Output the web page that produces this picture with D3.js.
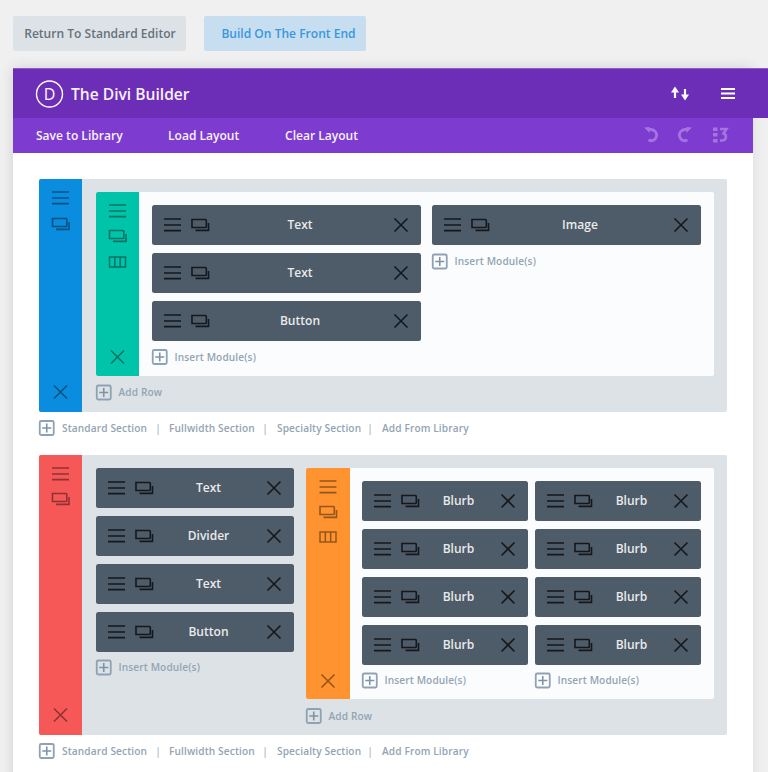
<!DOCTYPE html>
<html><head><meta charset="utf-8">
<script src="https://cdn.jsdelivr.net/npm/d3@7/dist/d3.min.js"></script>
<style>html,body{margin:0;padding:0;background:#f0f0f0;overflow:hidden}svg{display:block}text{font-family:"Open Sans",sans-serif}</style>
</head><body><svg id="c" width="768" height="772"></svg>
<script>
const topButtons = ["Return To Standard Editor", "Build On The Front End"];
const builderTitle = "The Divi Builder";
const toolbarLabels = ["Save to Library", "Load Layout", "Clear Layout"];
const sectionLinks = ["Standard Section", "Fullwidth Section", "Specialty Section", "Add From Library"];
const s1ColA = ["Text", "Text", "Button"];
const s1ColB = ["Image"];
const s2ColA = ["Text", "Divider", "Text", "Button"];
const s2ColB = ["Blurb", "Blurb", "Blurb", "Blurb"];
const s2ColC = ["Blurb", "Blurb", "Blurb", "Blurb"];
const insertLabel = "Insert Module(s)";
const addRowLabel = "Add Row";

const svg = d3.select("#c");
const defs = svg.append("defs");
defs.append("filter").attr("id","sh").attr("x","-10%").attr("y","-10%").attr("width","120%").attr("height","120%")
  .append("feGaussianBlur").attr("stdDeviation",7);

const rect = (g,x0,y0,x1,y1,fill,r=0) => g.append("rect").attr("x",x0).attr("y",y0).attr("width",x1-x0).attr("height",y1-y0).attr("rx",r).attr("fill",fill);
const label = (g,x,y,t,size,fill,weight=600,anchor="start",ls=0) => g.append("text").attr("x",x).attr("y",y).attr("dy","0.35em").attr("text-anchor",anchor)
  .attr("font-size",size).attr("font-weight",weight).attr("fill",fill).attr("letter-spacing",ls).text(t);
const stroke = (g,d,col,w=1.5,op=1) => g.append("path").attr("d",d).attr("fill","none").attr("stroke",col).attr("stroke-width",w).attr("stroke-opacity",op);

function burger(g,cx,cy,col,op=1){ stroke(g,`M${cx-8.5},${cy-6}h17M${cx-8.5},${cy}h17M${cx-8.5},${cy+5.7}h17`,col,1.7,op); }
function copyI(g,cx,cy,col,op=1){
  stroke(g,`M${cx-8},${cy-5.5}h13.5a.8,.8 0 0 1 .8,.8v6.4a.8,.8 0 0 1 -.8,.8h-13.5z`,col,1.6,op);
  stroke(g,`M${cx+8.5},${cy-2}v7.4h-13`,col,1.6,op);
}
function colsI(g,cx,cy,col,op=1){
  stroke(g,`M${cx-8},${cy-5}h16v10h-16zM${cx-2.7},${cy-5}v10M${cx+2.7},${cy-5}v10`,col,1.5,op);
}
function crossI(g,cx,cy,col,op=1){ stroke(g,`M${cx-6.5},${cy-6.5}L${cx+6.5},${cy+6.5}M${cx+6.5},${cy-6.5}L${cx-6.5},${cy+6.5}`,col,1.6,op); }
const plusCol = "#8fa2b3", linkCol = "#93a4b3";
function plus(g,x,cy){
  g.append("rect").attr("x",x+.75).attr("y",cy-7).attr("width",14).attr("height",14).attr("rx",1.5).attr("fill","none").attr("stroke",plusCol).attr("stroke-width",1.8);
  stroke(g,`M${x+7.75},${cy-4.5}v9M${x+3.25},${cy}h9`,"#7f93a5",1.6);
}

// background and panel
rect(svg,13,68,753,790,"#000").attr("filter","url(#sh)").attr("opacity",.13);
rect(svg,753,118,768,772,"#f0f0f0").attr("opacity",.35);
rect(svg,13,118,753,772,"#ffffff");

// top buttons
const btnG = svg.append("g");
rect(btnG,13,16,186,51,"#dde2e6",2);
label(btnG,100,34,topButtons[0],12.05,"#66727d",600,"middle");
rect(btnG,204,16,366,51,"#c6def0",2);
label(btnG,288.5,33.5,topButtons[1],12.05,"#3a97de",600,"middle");

// header
const head = svg.append("g");
rect(head,13,68,768,118,"#6c2db7");
head.append("rect").attr("x",13).attr("y",68).attr("width",755).attr("height",1).attr("fill","#8a5cc9");
rect(head,13,118,753,153,"#7d3bcf");
head.append("circle").attr("cx",49.5).attr("cy",94).attr("r",13).attr("fill","none").attr("stroke","#fff").attr("stroke-width",1.4);
label(head,49.5,94,"D",16,"#fff",400,"middle");
label(head,71,94.5,builderTitle,15.6,"#f6f2fb",600);
const tbX = d3.scaleOrdinal().domain(toolbarLabels).range([36,168,285]);
toolbarLabels.forEach(t => label(head,tbX(t),136,t,12.05,"#f6f2fb",600));
// header right icons
stroke(head,"M675,98V90","#fff",2.2);
head.append("path").attr("d","M671,92.5L675,86.5L679,92.5z").attr("fill","#fff");
stroke(head,"M685,89V97","#fff",2.2);
head.append("path").attr("d","M681,94.5L685,100.5L689,94.5z").attr("fill","#fff");
stroke(head,"M721,89h14M721,93.5h14M721,98h14","#fff",2);
// toolbar right icons
const dim = "#a474df";
stroke(head,"M648,129.5h3a5.6,5.6 0 1 1 -2.5,10.6",dim,2.8);
head.append("path").attr("d","M644,127.5l5.5,-.5v6z").attr("fill",dim);
stroke(head,"M688,129.5h-3a5.6,5.6 0 1 0 2.5,10.6",dim,2.8);
head.append("path").attr("d","M692,127.5l-5.5,-.5v6z").attr("fill",dim);
head.selectAll("rect.d").data([127.5,133,139]).enter().append("rect").attr("x",713).attr("y",d=>d).attr("width",4.5).attr("height",3.5).attr("fill",dim);
stroke(head,"M720,129h6.5l-3,4.5a3.6,3.6 0 0 1 -1,7h-2.5",dim,2.6);

// generic builders
function moduleStack(g,items,x0,x1,y0){
  const y = d3.scaleLinear().domain([0,1]).range([y0,y0+48]);
  items.forEach((t,i)=>{
    const top=y(i), cy=top+20;
    rect(g,x0,top,x1,top+40,"#4e5b68",2.5);
    burger(g,x0+20.5,cy,"#14181c");
    copyI(g,x0+48,cy,"#14181c");
    crossI(g,x1-20,cy,"#14181c");
    label(g,(x0+x1)/2+13.5,cy,t,12.05,"#e8eaec",600,"middle");
  });
  return y(items.length-1)+40;
}
function sideBar(g,x0,x1,y0,y1,fill,iconYs,r=2){
  g.append("path").attr("d",`M${x0+r},${y0}H${x1}V${y1}H${x0+r}a${r},${r} 0 0 1 -${r},-${r}V${y0+r}a${r},${r} 0 0 1 ${r},-${r}z`).attr("fill",fill);
  const cx=(x0+x1)/2, c="#000", o=.42;
  burger(g,cx,iconYs[0],c,o);
  copyI(g,cx,iconYs[1],c,o);
  if(iconYs[2]) colsI(g,cx,iconYs[2],c,o);
  crossI(g,cx,iconYs[3],c,o);
}
function insert(g,x,cy,text){ plus(g,x,cy); label(g,x+22.5,cy,text,10.15,linkCol,600,"start",.12); }
function links(g,cy){
  plus(g,39,cy);
  const lx=d3.scaleOrdinal().domain(sectionLinks).range([62,169,277,382]);
  const sx=d3.scaleOrdinal().domain(sectionLinks).range([158,265,370]);
  sectionLinks.forEach((t,i)=>{
    label(g,lx(t),cy,t,10.15,linkCol,600,"start",.12);
    if(i<3) label(g,sx(t),cy,"|",10.15,linkCol,400,"middle");
  });
}

// section 1
const s1 = svg.append("g");
rect(s1,39,179,727,412,"#dde2e6",2);
sideBar(s1,39,82,179,412,"#0a8cdf",[198,224,null,392]);
rect(s1,96,192,714,376,"#fbfcfe",2);
sideBar(s1,96,139,192,376,"#00c4aa",[211,236,262,357]);
moduleStack(s1,s1ColA,152,421,205);
moduleStack(s1,s1ColB,432,701,205);
insert(s1,152,357,insertLabel);
insert(s1,432,261.5,insertLabel);
insert(s1,96,392.5,addRowLabel);
links(s1,428);

// section 2
const s2 = svg.append("g");
rect(s2,39,455,727,735,"#dde2e6",2);
sideBar(s2,39,82,455,735,"#f65757",[474,499,null,715]);
moduleStack(s2,s2ColA,96,294,468);
insert(s2,96,667.5,insertLabel);
rect(s2,306,468,714,699,"#fbfcfe",2);
sideBar(s2,306,350,468,699,"#fe932f",[487,512,537,681]);
moduleStack(s2,s2ColB,362,528,481);
moduleStack(s2,s2ColC,535,701,481);
insert(s2,362,680.5,insertLabel);
insert(s2,535,680.5,insertLabel);
insert(s2,306,716,addRowLabel);
links(s2,751);
</script></body></html>
